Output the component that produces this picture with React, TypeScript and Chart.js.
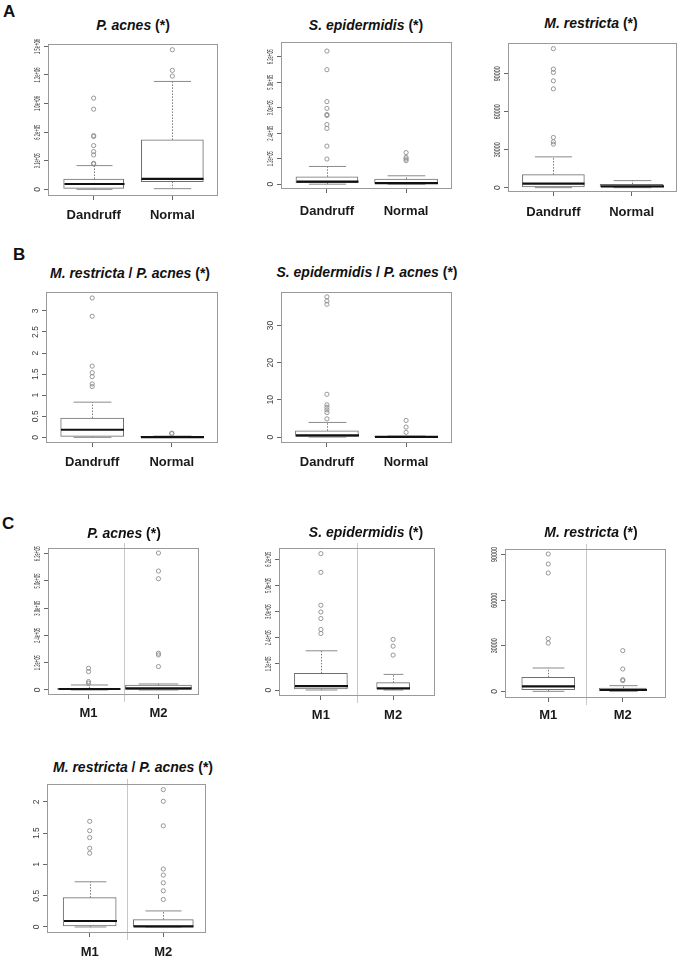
import React, { useEffect, useRef } from "react";
import { Chart, registerables } from "chart.js";
Chart.register(...registerables);

const FONT = '"Liberation Sans", Arial, Helvetica, sans-serif';

// ---------- categories ----------
const groupsAB = ["Dandruff", "Normal"];
const groupsC = ["M1", "M2"];

// ---------- tick values and labels ----------
const ticksPacnesA = [0, 300000, 600000, 900000, 1200000, 1500000];
const tickLabelsPacnesA = ["0", "3.1e+05", "6.2e+05", "1.0e+06", "1.2e+06", "1.5e+06"];
const ticksSci62 = [0, 124000, 248000, 372000, 496000, 620000];
const tickLabelsSci62 = ["0", "1.2e+05", "2.4e+05", "3.0e+05", "5.0e+05", "6.2e+05"];
const ticksMres = [0, 30000, 60000, 90000];
const tickLabelsMres = ["0", "30000", "60000", "90000"];
const ticksRatio3 = [0, 0.5, 1, 1.5, 2, 2.5, 3];
const tickLabelsRatio3 = ["0", "0.5", "1", "1.5", "2", "2.5", "3"];
const ticksRatio30 = [0, 10, 20, 30];
const tickLabelsRatio30 = ["0", "10", "20", "30"];
const ticksRatio2 = [0, 0.5, 1, 1.5, 2];
const tickLabelsRatio2 = ["0", "0.5", "1", "1.5", "2"];

// ---------- box statistics: [lower whisker, Q1, median, Q3, upper whisker] ----------
// A: P. acnes
const pacnesDandruff = [0, 10500, 56000, 108700, 249000];
const pacnesDandruffOut = [266000, 273000, 361000, 396000, 459000, 554000, 564000, 841000, 957000];
const pacnesNormal = [7000, 80600, 108700, 518700, 1132000];
const pacnesNormalOut = [1188000, 1248000, 1465000];
// A: S. epidermidis
const sepiDandruff = [0, 7800, 12600, 36100, 86300];
const sepiDandruffOut = [122400, 185200, 271500, 290400, 334300, 339000, 368800, 401800, 557200, 648000];
const sepiNormal = [0, 0, 4700, 25100, 40800];
const sepiNormalOut = [114600, 122400, 130300, 153800];
// A: M. restricta
const mresDandruff = [0, 530, 3180, 10330, 24360];
const mresDandruffOut = [34420, 36270, 39720, 78110, 84470, 91090, 93740, 109900];
const mresNormal = [0, 530, 1060, 2650, 5560];
const mresNormalOut: number[] = [];
// B: M. restricta / P. acnes
const ratioMPDandruff = [0, 0.024, 0.18, 0.457, 0.835];
const ratioMPDandruffOut = [1.205, 1.268, 1.44, 1.535, 1.69, 2.874, 3.307];
const ratioMPNormal = [0, 0, 0.005, 0.016, 0.03];
const ratioMPNormalOut = [0.087, 0.1];
// B: S. epidermidis / P. acnes
const ratioSPDandruff = [0, 0.18, 0.45, 1.7, 3.93];
const ratioSPDandruffOut = [4.9, 6.6, 7.3, 8.0, 8.66, 11.5, 35.7, 36.6, 37.7];
const ratioSPNormal = [0, 0, 0.05, 0.18, 0.27];
const ratioSPNormalOut = [1.25, 2.68, 4.46];
// C: P. acnes
const pacnesM1 = [0, 3000, 4600, 7600, 22800];
const pacnesM1Out = [30400, 38000, 83600, 98800];
const pacnesM2 = [0, 3000, 7600, 22800, 27400];
const pacnesM2Out = [106400, 159600, 167200, 506000, 541000, 623000];
// C: S. epidermidis
const sepiM1 = [0, 4700, 18900, 78900, 186000];
const sepiM1Out = [268000, 287000, 339000, 370000, 402000, 558000, 647000];
const sepiM2 = [0, 4700, 7900, 34700, 74100];
const sepiM2Out = [165600, 208000, 240000];
// C: M. restricta
const mresM1 = [0, 1100, 3290, 9220, 15360];
const mresM1Out = [31800, 34700, 77900, 83800, 90400];
const mresM2 = [0, 440, 880, 2190, 3730];
const mresM2Out = [7020, 7680, 14700, 26800];
// C: M. restricta / P. acnes
const ratioMPM1 = [0, 0.016, 0.096, 0.47, 0.723];
const ratioMPM1Out = [1.18, 1.26, 1.43, 1.54, 1.69];
const ratioMPM2 = [0, 0, 0.01, 0.118, 0.257];
const ratioMPM2Out = [0.44, 0.58, 0.707, 0.83, 0.927, 1.618, 2.01, 2.197];

type Seg = [string, boolean];
interface PanelDef {
  title: Seg[];
  groups: string[];
  stats: number[][];
  outliers: number[][];
  ticks: number[];
  tickLabels: string[];
  yMin: number;
  yMax: number;
  frame: { l: number; r: number; t: number; b: number };
  boxWidths: number[];
  labelPad: number;
  titlePos: [number, number];
  separator: boolean;
}

const panels: PanelDef[] = [
  {
    title: [["P. acnes", true], [" (*)", false]],
    groups: groupsAB, stats: [pacnesDandruff, pacnesNormal], outliers: [pacnesDandruffOut, pacnesNormalOut],
    ticks: ticksPacnesA, tickLabels: tickLabelsPacnesA, yMin: -70000, yMax: 1525000,
    frame: { l: 48, r: 218, t: 44, b: 196 }, boxWidths: [60, 62], labelPad: 8, titlePos: [133, 25], separator: false,
  },
  {
    title: [["S. epidermidis", true], [" (*)", false]],
    groups: groupsAB, stats: [sepiDandruff, sepiNormal], outliers: [sepiDandruffOut, sepiNormalOut],
    ticks: ticksSci62, tickLabels: tickLabelsSci62, yMin: -23500, yMax: 692000,
    frame: { l: 281, r: 452, t: 42, b: 189 }, boxWidths: [62, 63], labelPad: 11, titlePos: [366, 25], separator: false,
  },
  {
    title: [["M. restricta", true], [" (*)", false]],
    groups: groupsAB, stats: [mresDandruff, mresNormal], outliers: [mresDandruffOut, mresNormalOut],
    ticks: ticksMres, tickLabels: tickLabelsMres, yMin: -3440, yMax: 114390,
    frame: { l: 508, r: 677, t: 43, b: 192 }, boxWidths: [62, 63], labelPad: 9, titlePos: [591, 23], separator: false,
  },
  {
    title: [["M. restricta", true], [" / ", false], ["P. acnes", true], [" (*)", false]],
    groups: groupsAB, stats: [ratioMPDandruff, ratioMPNormal], outliers: [ratioMPDandruffOut, ratioMPNormalOut],
    ticks: ticksRatio3, tickLabels: tickLabelsRatio3, yMin: -0.134, yMax: 3.449,
    frame: { l: 46, r: 218, t: 292, b: 443 }, boxWidths: [63, 63], labelPad: 8, titlePos: [130, 273], separator: false,
  },
  {
    title: [["S. epidermidis", true], [" / ", false], ["P. acnes", true], [" (*)", false]],
    groups: groupsAB, stats: [ratioSPDandruff, ratioSPNormal], outliers: [ratioSPDandruffOut, ratioSPNormalOut],
    ticks: ticksRatio30, tickLabels: tickLabelsRatio30, yMin: -1.6, yMax: 39.0,
    frame: { l: 281, r: 452, t: 292, b: 443 }, boxWidths: [63, 63], labelPad: 8, titlePos: [367, 272], separator: false,
  },
  {
    title: [["P. acnes", true], [" (*)", false]],
    groups: groupsC, stats: [pacnesM1, pacnesM2], outliers: [pacnesM1Out, pacnesM2Out],
    ticks: ticksSci62, tickLabels: tickLabelsSci62, yMin: -22800, yMax: 645800,
    frame: { l: 48, r: 199, t: 548, b: 695 }, boxWidths: [62, 66], labelPad: 7, titlePos: [124, 533], separator: true,
  },
  {
    title: [["S. epidermidis", true], [" (*)", false]],
    groups: groupsC, stats: [sepiM1, sepiM2], outliers: [sepiM1Out, sepiM2Out],
    ticks: ticksSci62, tickLabels: tickLabelsSci62, yMin: -28400, yMax: 673600,
    frame: { l: 279, r: 435, t: 548, b: 696 }, boxWidths: [53, 33], labelPad: 8, titlePos: [366, 532], separator: true,
  },
  {
    title: [["M. restricta", true], [" (*)", false]],
    groups: groupsC, stats: [mresM1, mresM2], outliers: [mresM1Out, mresM2Out],
    ticks: ticksMres, tickLabels: tickLabelsMres, yMin: -4390, yMax: 93700,
    frame: { l: 505, r: 666, t: 549, b: 698 }, boxWidths: [53, 47], labelPad: 6, titlePos: [591, 532], separator: true,
  },
  {
    title: [["M. restricta", true], [" / ", false], ["P. acnes", true], [" (*)", false]],
    groups: groupsC, stats: [ratioMPM1, ratioMPM2], outliers: [ratioMPM1Out, ratioMPM2Out],
    ticks: ticksRatio2, tickLabels: tickLabelsRatio2, yMin: -0.096, yMax: 2.287,
    frame: { l: 47, r: 206, t: 784, b: 933 }, boxWidths: [53, 60], labelPad: 8, titlePos: [133, 767], separator: true,
  },
];

const Y_AXIS_W = 44;
const X_AXIS_H = 34;
const PAD_TOP = 8;
const PAD_RIGHT = 6;

function BoxPanel({ p }: { p: PanelDef }) {
  const ref = useRef<HTMLCanvasElement | null>(null);
  const width = p.frame.r - p.frame.l + Y_AXIS_W + PAD_RIGHT;
  const height = p.frame.b - p.frame.t + PAD_TOP + X_AXIS_H;

  useEffect(() => {
    if (!ref.current) return;
    const datasets: any[] = [];
    p.stats.forEach((s, i) => {
      datasets.push({
        type: "bar",
        data: [{ x: i + 1, y: [s[1], s[3]] }],
        backgroundColor: "#ffffff",
        borderColor: "#6e6e6e",
        borderWidth: 1,
        borderSkipped: false,
        barThickness: p.boxWidths[i],
        grouped: false,
        order: 2,
      });
    });
    p.outliers.forEach((o, i) => {
      datasets.push({
        type: "line",
        data: o.map((v) => ({ x: i + 1, y: v })),
        showLine: false,
        pointRadius: 2.1,
        pointBorderWidth: 0.9,
        pointBorderColor: "#8c8c8c",
        pointBackgroundColor: "rgba(255,255,255,0)",
        order: 1,
      });
    });

    const boxPlugin = {
      id: "boxExtras",
      afterDatasetsDraw(chart: any) {
        const ctx = chart.ctx;
        const xs = chart.scales.x;
        const ys = chart.scales.y;
        ctx.save();
        p.stats.forEach((s, i) => {
          const cx = Math.round(xs.getPixelForValue(i + 1)) + 0.5;
          const w = p.boxWidths[i];
          const py = (v: number) => ys.getPixelForValue(v);
          ctx.strokeStyle = "#7a7a7a";
          ctx.lineWidth = 1;
          ctx.setLineDash([1.5, 1.5]);
          ctx.beginPath();
          ctx.moveTo(cx, py(s[3]));
          ctx.lineTo(cx, py(s[4]));
          ctx.moveTo(cx, py(s[1]));
          ctx.lineTo(cx, py(s[0]));
          ctx.stroke();
          ctx.setLineDash([]);
          ctx.strokeStyle = "#8a8a8a";
          ctx.beginPath();
          ctx.moveTo(cx - w * 0.3, py(s[4]));
          ctx.lineTo(cx + w * 0.3, py(s[4]));
          ctx.moveTo(cx - w * 0.3, py(s[0]));
          ctx.lineTo(cx + w * 0.3, py(s[0]));
          ctx.stroke();
          ctx.strokeStyle = "#111111";
          ctx.lineWidth = 2.2;
          ctx.beginPath();
          ctx.moveTo(cx - w / 2, py(s[2]));
          ctx.lineTo(cx + w / 2, py(s[2]));
          ctx.stroke();
        });
        ctx.restore();
      },
      afterDraw(chart: any) {
        const ctx = chart.ctx;
        const a = chart.chartArea;
        const xs = chart.scales.x;
        const ys = chart.scales.y;
        ctx.save();
        if (p.separator) {
          const sx = Math.round((xs.getPixelForValue(1) + xs.getPixelForValue(2)) / 2) + 0.5;
          ctx.strokeStyle = "#c8c8c8";
          ctx.lineWidth = 1;
          ctx.beginPath();
          ctx.moveTo(sx, a.top - 5);
          ctx.lineTo(sx, a.bottom + 7);
          ctx.stroke();
        }
        ctx.strokeStyle = "#9a9a9a";
        ctx.lineWidth = 1;
        ctx.strokeRect(Math.round(a.left) + 0.5, Math.round(a.top) + 0.5, Math.round(a.right - a.left) - 1, Math.round(a.bottom - a.top) - 1);
        ctx.fillStyle = "#3a3a3a";
        ctx.font = `8.5px ${FONT}`;
        ctx.textAlign = "center";
        ctx.textBaseline = "middle";
        p.ticks.forEach((v, i) => {
          const y = ys.getPixelForValue(v);
          ctx.save();
          ctx.translate(a.left - 10, y);
          ctx.rotate(-Math.PI / 2);
          ctx.fillText(p.tickLabels[i], 0, 0, 15);
          ctx.restore();
        });
        ctx.restore();
      },
    };

    const chart = new Chart(ref.current, {
      type: "bar",
      data: { datasets },
      options: {
        responsive: false,
        maintainAspectRatio: false,
        animation: false,
        devicePixelRatio: 1,
        layout: { padding: { top: PAD_TOP, right: PAD_RIGHT, left: 0, bottom: 0 } },
        plugins: { legend: { display: false }, tooltip: { enabled: false }, title: { display: false } },
        scales: {
          x: {
            type: "linear",
            min: 0.42,
            max: 2.58,
            offset: false,
            afterBuildTicks: (s: any) => {
              s.ticks = p.groups.map((_, i) => ({ value: i + 1 }));
            },
            afterFit: (s: any) => {
              s.height = X_AXIS_H;
            },
            grid: { display: true, drawOnChartArea: false, drawTicks: true, tickLength: 4, color: "#666666", offset: false },
            border: { display: false },
            ticks: {
              callback: (_v: any, idx: number) => p.groups[idx] ?? "",
              font: { family: FONT, size: 13, weight: "bold" },
              color: "#1a1a1a",
              padding: p.labelPad,
              maxRotation: 0,
              minRotation: 0,
              autoSkip: false,
            },
          },
          y: {
            type: "linear",
            min: p.yMin,
            max: p.yMax,
            afterBuildTicks: (s: any) => {
              s.ticks = p.ticks.map((v) => ({ value: v }));
            },
            afterFit: (s: any) => {
              s.width = Y_AXIS_W;
            },
            grid: { display: true, drawOnChartArea: false, drawTicks: true, tickLength: 4, color: "#666666" },
            border: { display: false },
            ticks: { display: false },
          },
        },
      } as any,
      plugins: [boxPlugin],
    } as any);
    return () => chart.destroy();
  }, [p]);

  return (
    <canvas
      ref={ref}
      width={width}
      height={height}
      style={{ position: "absolute", left: p.frame.l - Y_AXIS_W, top: p.frame.t - PAD_TOP, width, height }}
    />
  );
}

function Title({ p }: { p: PanelDef }) {
  return (
    <div
      style={{
        position: "absolute",
        left: p.titlePos[0],
        top: p.titlePos[1],
        transform: "translate(-50%, -50%)",
        whiteSpace: "nowrap",
        fontFamily: FONT,
        fontSize: 14,
        fontWeight: "bold",
        color: "#111",
      }}
    >
      {p.title.map((seg, i) => (seg[1] ? <i key={i}>{seg[0]}</i> : <span key={i}>{seg[0]}</span>))}
    </div>
  );
}

const letterStyle: React.CSSProperties = {
  position: "absolute",
  fontFamily: FONT,
  fontSize: 17,
  lineHeight: "17px",
  fontWeight: "bold",
  color: "#111",
};

export default function App() {
  return (
    <div style={{ position: "absolute", left: 0, top: 0, width: 678, height: 960, overflow: "hidden", background: "#fff" }}>
      <div style={{ ...letterStyle, left: 3, top: 3 }}>A</div>
      <div style={{ ...letterStyle, left: 13, top: 246 }}>B</div>
      <div style={{ ...letterStyle, left: 2, top: 515 }}>C</div>
      {panels.map((p, i) => (
        <React.Fragment key={i}>
          <BoxPanel p={p} />
          <Title p={p} />
        </React.Fragment>
      ))}
    </div>
  );
}
